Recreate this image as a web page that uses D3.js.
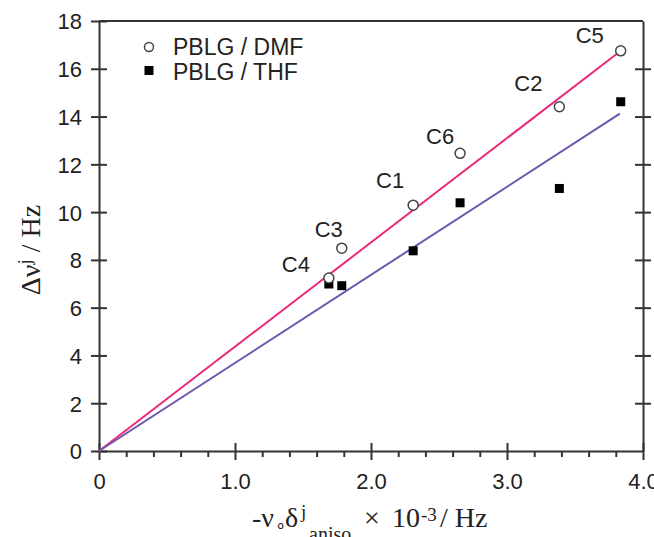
<!DOCTYPE html>
<html>
<head>
<meta charset="utf-8">
<script src="https://cdn.jsdelivr.net/npm/d3@7"></script>
<style>
  body { margin: 0; background: #fff; }
  text { font-family: "Liberation Sans", Arial, sans-serif; fill: #222; }
  .serif { font-family: "Liberation Serif", "Times New Roman", serif; }
</style>
</head>
<body>
<svg id="chart" width="654" height="537"></svg>
<script>
// data
const carbons = ["C4", "C3", "C1", "C6", "C2", "C5"];
const xValues = [1.69, 1.785, 2.31, 2.655, 3.385, 3.836];
const dmfValues = [7.24, 8.49, 10.29, 12.46, 14.41, 16.75];
const thfValues = [6.99, 6.92, 8.38, 10.39, 10.99, 14.62];
const fitX = [0, 3.83];
const dmfFit = [0, 16.72];
const thfFit = [0, 14.12];
const xTicks = [0, 1, 2, 3, 4];
const xTickLabels = ["0", "1.0", "2.0", "3.0", "4.0"];
const xMinorTicks = [0.2, 0.4, 0.6, 0.8, 1.2, 1.4, 1.6, 1.8, 2.2, 2.4, 2.6, 2.8, 3.2, 3.4, 3.6, 3.8];
const yTicks = [0, 2, 4, 6, 8, 10, 12, 14, 16, 18];
const legendLabels = ["PBLG / DMF", "PBLG / THF"];

// label placement relative to the DMF point
const labelOffsets = [[-33, -6], [-13, -11], [-23, -17], [-20, -9], [-31, -16], [-31, -8]];

const svg = d3.select("#chart");
const x = d3.scaleLinear().domain([0, 4]).range([99, 643]);
const y = d3.scaleLinear().domain([0, 18]).range([451, 21]);
const AXIS = "#333";

// bottom axis
const xAxis = svg.append("g")
    .attr("transform", "translate(0," + y(0) + ")")
    .call(d3.axisBottom(x).tickValues(xTicks).tickSize(9).tickSizeOuter(0)
        .tickFormat((d, i) => xTickLabels[i]));
xAxis.selectAll(".tick line").attr("y1", -8);
xAxis.selectAll(".tick text").attr("y", 38).attr("dy", 0).style("font-size", "22px");

svg.append("g")
    .attr("transform", "translate(0," + y(0) + ")")
    .call(d3.axisBottom(x).tickValues(xMinorTicks).tickSize(6).tickSizeOuter(0).tickFormat(""))
    .select(".domain").remove();

// left axis
const yAxis = svg.append("g")
    .attr("transform", "translate(" + x(0) + ",0)")
    .call(d3.axisLeft(y).tickValues(yTicks).tickSize(8).tickSizeOuter(0).tickPadding(9));
yAxis.selectAll(".tick line").attr("x1", 8);
yAxis.selectAll(".tick text").attr("dy", "0.36em").style("font-size", "22px");

// right axis
const rAxis = svg.append("g")
    .attr("transform", "translate(" + x(4) + ",0)")
    .call(d3.axisRight(y).tickValues(yTicks.slice(1, -1)).tickSize(8).tickSizeOuter(0).tickFormat(""));
rAxis.selectAll(".tick line").attr("x1", -8);

// top frame
svg.append("line")
    .attr("x1", x(0)).attr("x2", x(4))
    .attr("y1", y(18)).attr("y2", y(18));

svg.selectAll(".domain, .tick line, line").attr("stroke", AXIS).attr("stroke-width", 2);

// fit lines
const line = d3.line().x(d => x(d[0])).y(d => y(d[1]));
svg.append("path")
    .attr("d", line(d3.zip(fitX, dmfFit)))
    .attr("fill", "none").attr("stroke", "#ec2a7d").attr("stroke-width", 2);
svg.append("path")
    .attr("d", line(d3.zip(fitX, thfFit)))
    .attr("fill", "none").attr("stroke", "#6e55ad").attr("stroke-width", 2);

// THF squares
svg.selectAll("rect.thf")
    .data(d3.zip(xValues, thfValues))
    .enter().append("rect")
    .attr("class", "thf")
    .attr("x", d => x(d[0]) - 4.5)
    .attr("y", d => y(d[1]) - 4.5)
    .attr("width", 9).attr("height", 9)
    .attr("fill", "#000");

// DMF circles
svg.selectAll("circle.dmf")
    .data(d3.zip(xValues, dmfValues))
    .enter().append("circle")
    .attr("class", "dmf")
    .attr("cx", d => x(d[0]))
    .attr("cy", d => y(d[1]))
    .attr("r", 5)
    .attr("fill", "#fff")
    .attr("stroke", "#444")
    .attr("stroke-width", 1.5);

// carbon labels
svg.selectAll("text.carbon")
    .data(carbons)
    .enter().append("text")
    .attr("class", "carbon")
    .attr("x", (d, i) => x(xValues[i]) + labelOffsets[i][0])
    .attr("y", (d, i) => y(dmfValues[i]) + labelOffsets[i][1])
    .attr("text-anchor", "middle")
    .style("font-size", "22px")
    .text(d => d);

// legend
svg.append("circle")
    .attr("cx", 149).attr("cy", 47).attr("r", 4.5)
    .attr("fill", "#fff").attr("stroke", "#444").attr("stroke-width", 1.5);
svg.append("rect")
    .attr("x", 144.5).attr("y", 66).attr("width", 9).attr("height", 9).attr("fill", "#000");
svg.append("text").attr("x", 173).attr("y", 55).style("font-size", "23px").text(legendLabels[0]);
svg.append("text").attr("x", 173).attr("y", 80).style("font-size", "23px").text(legendLabels[1]);

// x axis title
const xt = svg.append("text").attr("class", "serif")
    .attr("y", 527).style("font-size", "28px");
xt.append("tspan").attr("x", 252).text("-ν");
xt.append("tspan").attr("x", 275).attr("y", 531).style("font-size", "18px").text("∘");
xt.append("tspan").attr("x", 285).attr("y", 527).text("δ");
xt.append("tspan").attr("x", 301).attr("y", 518).style("font-size", "19px").text("j");
xt.append("tspan").attr("x", 309).attr("y", 541).style("font-size", "20px").text("aniso");
xt.append("tspan").attr("x", 364).attr("y", 527).text("×");
xt.append("tspan").attr("x", 392).attr("y", 527).text("10");
xt.append("tspan").attr("x", 421).attr("y", 521).style("font-size", "19px").text("-3");
xt.append("tspan").attr("x", 440).attr("y", 527).text("/ Hz");

// y axis title
const yt = svg.append("text").attr("class", "serif")
    .attr("transform", "translate(40,250) rotate(-90)")
    .attr("text-anchor", "middle")
    .style("font-size", "28px");
yt.append("tspan").text("Δν");
yt.append("tspan").attr("dy", -9).style("font-size", "19px").text("j");
yt.append("tspan").attr("dy", 9).text(" / Hz");
</script>
</body>
</html>
